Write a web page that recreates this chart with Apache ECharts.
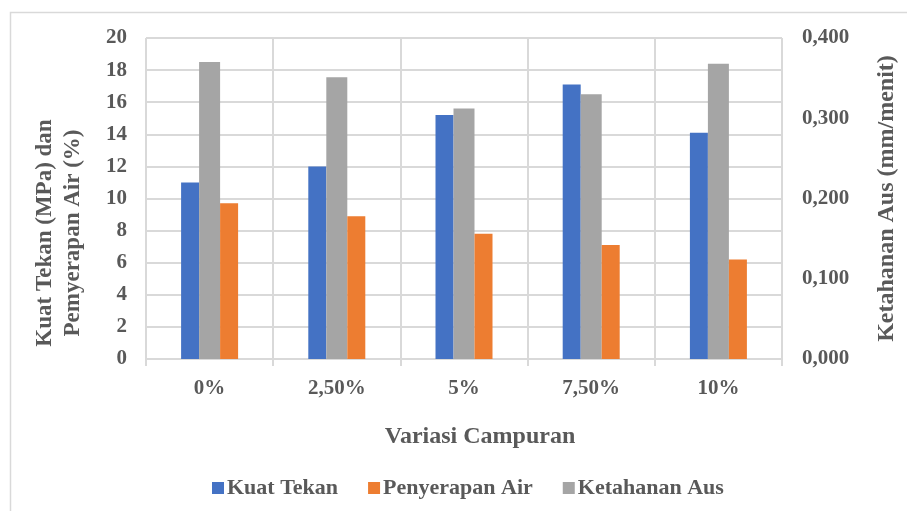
<!DOCTYPE html>
<html>
<head>
<meta charset="utf-8">
<script src="https://cdn.jsdelivr.net/npm/echarts@6/dist/echarts.min.js"></script>
<style>
  html, body { margin: 0; padding: 0; background: #fff; }
  #chart { width: 907px; height: 511px; }
</style>
</head>
<body>
<div id="chart"></div>
<script>
// values
const categories = ['0%', '2,50%', '5%', '7,50%', '10%'];
const kuatTekan = [11.0, 12.0, 15.2, 17.1, 14.1];
const penyerapanAir = [9.7, 8.9, 7.8, 7.1, 6.2];
const ketahananAus = [0.370, 0.351, 0.312, 0.330, 0.368];
const leftTicks = [0, 20, 2];
const rightTicks = [0, 0.4, 0.1];

const font = '"Liberation Serif", "Times New Roman", serif';
const textGray = '#595959';
const gridGray = '#d9d9d9';

const chartDom = document.getElementById('chart');
const myChart = echarts.init(chartDom);

const option = {
    animation: false,
    textStyle: { fontFamily: font },
    grid: { left: 146, right: 122, top: 38, bottom: 152 },
    legend: {
        data: ['Kuat Tekan', 'Penyerapan Air', 'Ketahanan Aus'],
        left: 207,
        top: 472,
        itemWidth: 12,
        itemHeight: 12,
        itemGap: 30,
        icon: 'rect',
        textStyle: { fontFamily: font, fontSize: 22, fontWeight: 'bold', color: textGray, padding: [0, 0, 0, -2] }
    },
    xAxis: {
        type: 'category',
        data: categories,
        name: 'Variasi Campuran',
        nameLocation: 'middle',
        nameGap: 66,
        nameTextStyle: { fontFamily: font, fontSize: 24, fontWeight: 'bold', color: textGray, padding: [0, 0, 0, 32] },
        axisLine: { lineStyle: { color: gridGray, width: 2 } },
        axisTick: { show: true, length: 7, lineStyle: { color: gridGray, width: 2 } },
        splitLine: { show: true, lineStyle: { color: gridGray, width: 2 } },
        axisLabel: { fontFamily: font, fontSize: 21, fontWeight: 'bold', color: textGray, margin: 19 }
    },
    yAxis: [
        {
            type: 'value',
            min: leftTicks[0],
            max: leftTicks[1],
            interval: leftTicks[2],
            axisLine: { show: false },
            axisTick: { show: false },
            splitLine: { lineStyle: { color: gridGray, width: 2 } },
            axisLabel: { fontFamily: font, fontSize: 21, fontWeight: 'bold', color: textGray, margin: 19 }
        },
        {
            type: 'value',
            min: rightTicks[0],
            max: rightTicks[1],
            interval: rightTicks[2],
            name: 'Ketahanan Aus (mm/menit)',
            nameLocation: 'middle',
            nameRotate: 90,
            nameGap: 93,
            nameTextStyle: { fontFamily: font, fontSize: 24, fontWeight: 'bold', color: textGray },
            axisLine: { show: false },
            axisTick: { show: false },
            splitLine: { show: false },
            axisLabel: {
                fontFamily: font, fontSize: 21, fontWeight: 'bold', color: textGray, margin: 20,
                formatter: v => v.toFixed(3).replace('.', ',')
            }
        }
    ],
    series: [
        { name: 'Kuat Tekan', type: 'bar', yAxisIndex: 0, data: kuatTekan, barWidth: 18, barGap: '0%', itemStyle: { color: '#4472C4' } },
        { name: 'Ketahanan Aus', type: 'bar', yAxisIndex: 1, data: ketahananAus, barWidth: 21, barGap: '0%', itemStyle: { color: '#A5A5A5' } },
        { name: 'Penyerapan Air', type: 'bar', yAxisIndex: 0, data: penyerapanAir, barWidth: 18, barGap: '0%', itemStyle: { color: '#ED7D31' } }
    ],
    graphic: [
        {
            type: 'rect',
            z: -10,
            shape: { x: 10.5, y: 12.5, width: 1000, height: 1000 },
            style: { fill: 'none', stroke: gridGray, lineWidth: 1.5 }
        },
        {
            type: 'text',
            x: 59,
            y: 233,
            rotation: Math.PI / 2,
            style: {
                text: 'Kuat Tekan (MPa) dan\nPemyerapan Air (%)',
                font: 'bold 23px ' + font,
                fill: textGray,
                align: 'center',
                verticalAlign: 'middle',
                lineHeight: 28
            }
        }
    ]
};

option && myChart.setOption(option);
</script>
</body>
</html>
